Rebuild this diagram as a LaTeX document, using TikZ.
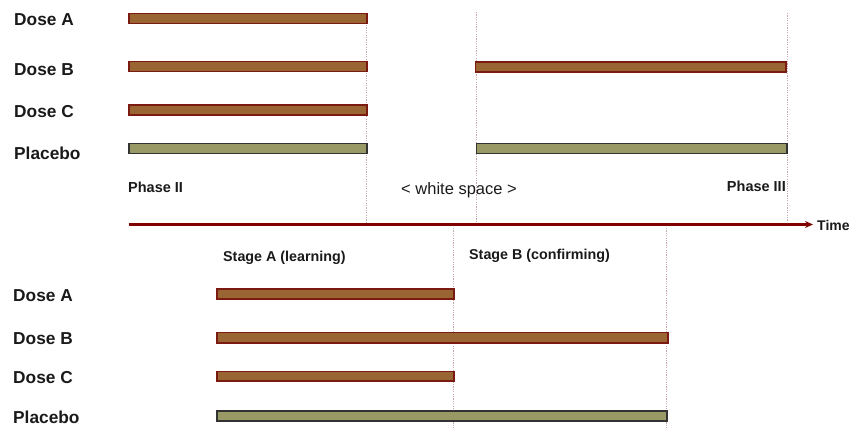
\documentclass[tikz,border=0pt]{standalone}
\usepackage{fontspec}
\setmainfont{Liberation Sans}
\usetikzlibrary{arrows.meta}
\definecolor{barbrown}{HTML}{996633}
\definecolor{barbrownedge}{HTML}{7A1A10}
\definecolor{barolive}{HTML}{999966}
\definecolor{barolivedge}{HTML}{333333}
\definecolor{axisred}{HTML}{800000}
\definecolor{guide}{HTML}{C8A8A8}
\definecolor{txt}{HTML}{1A1A1A}
\tikzset{
  dosebar/.style={fill=barbrown,draw=barbrownedge,line width=1.2pt},
  placebobar/.style={fill=barolive,draw=barolivedge,line width=1.2pt},
  guideline/.style={draw=guide,line width=0.8pt,dash pattern=on 1.2pt off 1.2pt},
  timeaxis/.style={draw=axisred,line width=2.6pt,-{Stealth[length=8pt,width=7pt]}},
  armlabel/.style={anchor=west,inner sep=0pt,text=txt,font=\bfseries\fontsize{17.3}{19}\selectfont},
  phaselabel/.style={inner sep=0pt,text=txt,font=\bfseries\fontsize{14.5}{16}\selectfont},
  stagelabel/.style={anchor=west,inner sep=0pt,text=txt,font=\bfseries\fontsize{14.3}{16}\selectfont}
}
\begin{document}
\begin{tikzpicture}[x=1pt,y=-1pt]
\useasboundingbox (0,0) rectangle (854,429);
% guide lines
\draw[guideline] (366.5,13) -- (366.5,222);
\draw[guideline] (476,12) -- (476,222);
\draw[guideline] (787,13) -- (787,221);
\draw[guideline] (453.5,228) -- (453.5,429);
\draw[guideline] (666.5,228) -- (666.5,429);
% top bars
\draw[dosebar] (129,13.5) rectangle (367,23.5);
\draw[dosebar] (129,61.5) rectangle (367,71.5);
\draw[dosebar] (475.5,62) rectangle (786,72);
\draw[dosebar] (129,105) rectangle (367,115);
\draw[placebobar] (129,143.5) rectangle (367,153.5);
\draw[placebobar] (476.5,143.5) rectangle (787,153.5);
% bottom bars
\draw[dosebar] (217,289) rectangle (454,299);
\draw[dosebar] (217,332.5) rectangle (668,343);
\draw[dosebar] (217,371.5) rectangle (454,381);
\draw[placebobar] (217,411) rectangle (667,421);
% top labels
\node[armlabel] (ta) at (14,19.5) {Dose A};
\node[armlabel] (tb) at (14,69.5) {Dose B};
\node[armlabel] (tc) at (14,111.5) {Dose C};
\node[armlabel] (tp) at (14,153.5) {Placebo};
% bottom labels
\node[armlabel] (ba) at (13,295.5) {Dose A};
\node[armlabel] (bb) at (13,338.5) {Dose B};
\node[armlabel] (bc) at (13,377.5) {Dose C};
\node[armlabel] (bp) at (13,417.5) {Placebo};
% phase labels
\node[phaselabel,anchor=west] (p2) at (128,187.5) {Phase II};
\node[phaselabel,anchor=east] (p3) at (786,186.5) {Phase III};
\node[inner sep=0pt,text=txt,font=\fontsize{16.5}{18}\selectfont] (ws) at (459,190.5) {< white space >};
% time axis
\coordinate (t0) at (129,224.5);
\coordinate (t1) at (813,224.5);
\draw[timeaxis] (t0) -- (t1);
\node[phaselabel,anchor=west,font=\bfseries\fontsize{14}{16}\selectfont] (time) at (817,225) {Time};
% stage labels
\node[stagelabel] (sa) at (223,258) {Stage A (learning)};
\node[stagelabel] (sb) at (469,255.5) {Stage B (confirming)};
\end{tikzpicture}
\end{document}
